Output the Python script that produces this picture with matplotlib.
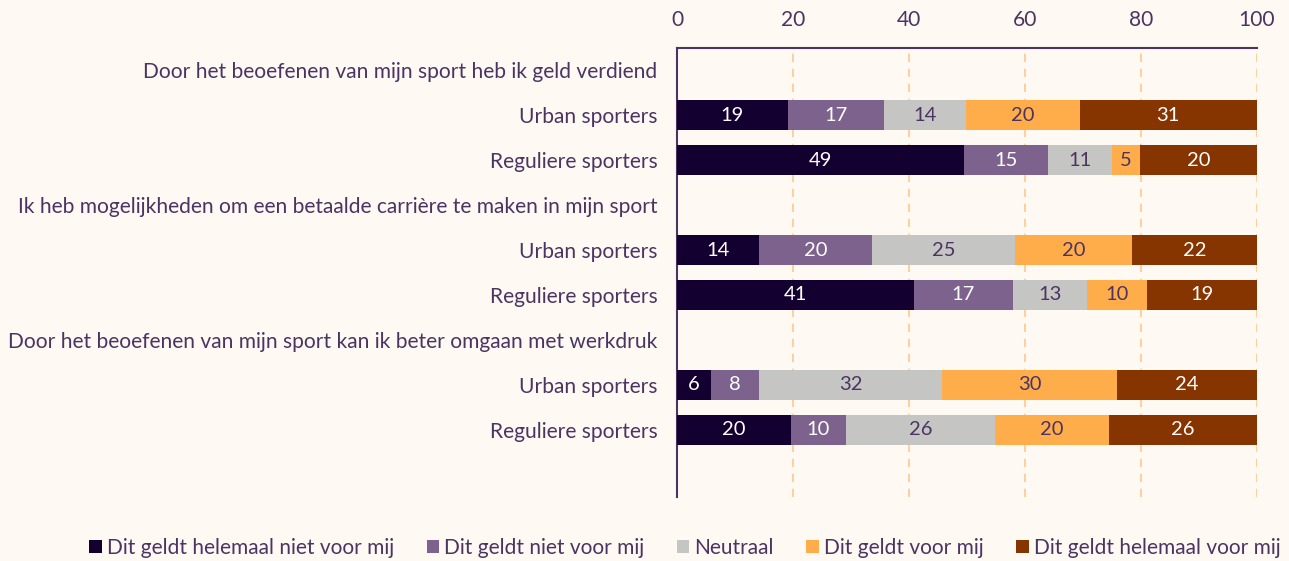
# Stacked horizontal bar chart: urban vs regular sporters
import matplotlib.pyplot as plt

plt.rcParams['font.family'] = ['Lato', 'DejaVu Sans']

# Row labels, top to bottom (headers have no bar)
row_labels = [
    'Door het beoefenen van mijn sport heb ik geld verdiend',
    'Urban sporters',
    'Reguliere sporters',
    'Ik heb mogelijkheden om een betaalde carrière te maken in mijn sport',
    'Urban sporters',
    'Reguliere sporters',
    'Door het beoefenen van mijn sport kan ik beter omgaan met werkdruk',
    'Urban sporters',
    'Reguliere sporters',
]

categories = ['Dit geldt helemaal niet voor mij', 'Dit geldt niet voor mij',
              'Neutraal', 'Dit geldt voor mij', 'Dit geldt helemaal voor mij']

# Percentages per bar row (index into row_labels)
bar_rows = [1, 2, 4, 5, 7, 8]
helemaal_niet = [19.1, 49.4, 14.1, 40.8, 5.9, 19.6]
niet = [16.6, 14.6, 19.6, 17.1, 8.2, 9.6]
neutraal = [14.1, 11.0, 24.6, 12.8, 31.6, 25.6]
wel = [19.6, 4.9, 20.1, 10.4, 30.2, 19.6]
helemaal_wel = [30.6, 20.1, 21.6, 18.9, 24.1, 25.6]

series = [helemaal_niet, niet, neutraal, wel, helemaal_wel]
colors = ['#140030', '#7c628d', '#c5c5c3', '#ffac4a', '#863400']
label_colors = ['white', 'white', '#4b3462', '#4b3462', 'white']

bg = '#fff9f3'
text_col = '#4b3462'

fig = plt.figure(figsize=(12.89, 5.61), dpi=100, facecolor=bg)
ax = fig.add_axes([677 / 1289, 1 - 497 / 561, 580 / 1289, 449 / 561])
ax.set_facecolor(bg)

left = [0] * len(bar_rows)
handles = []
for vals, col, lcol, name in zip(series, colors, label_colors, categories):
    bars = ax.barh(bar_rows, vals, left=left, height=0.667, color=col,
                   label=name, zorder=3)
    ax.bar_label(bars, labels=[f'{round(v)}' for v in vals], label_type='center',
                 color=lcol, fontsize=14.5)
    handles.append(bars)
    left = [a + b for a, b in zip(left, vals)]

ax.set_xlim(0, 100)
ax.set_ylim(9.5, -0.5)
ax.set_yticks(range(len(row_labels)))
ax.set_yticklabels(row_labels)
ax.set_xticks([0, 20, 40, 60, 80, 100])
ax.xaxis.tick_top()
ax.tick_params(axis='both', length=0, labelsize=15.1, colors=text_col)
ax.tick_params(axis='y', pad=14)
ax.tick_params(axis='x', pad=13)

ax.grid(axis='x', linestyle=(0, (5, 4)), color='#ffc88c', linewidth=1.2, zorder=0)
for s in ['right', 'bottom']:
    ax.spines[s].set_visible(False)
for s in ['left', 'top']:
    ax.spines[s].set_color(text_col)
    ax.spines[s].set_linewidth(1.5)

leg = fig.legend(handles=handles, labels=categories, loc='center',
                 bbox_to_anchor=(685 / 1289, 1 - 548 / 561), ncol=5,
                 frameon=False, fontsize=15, handlelength=0.6, handleheight=0.6,
                 handletextpad=0.25, columnspacing=1.55)
for t in leg.get_texts():
    t.set_color(text_col)

fig.savefig('out.png', dpi=100, facecolor=bg)
